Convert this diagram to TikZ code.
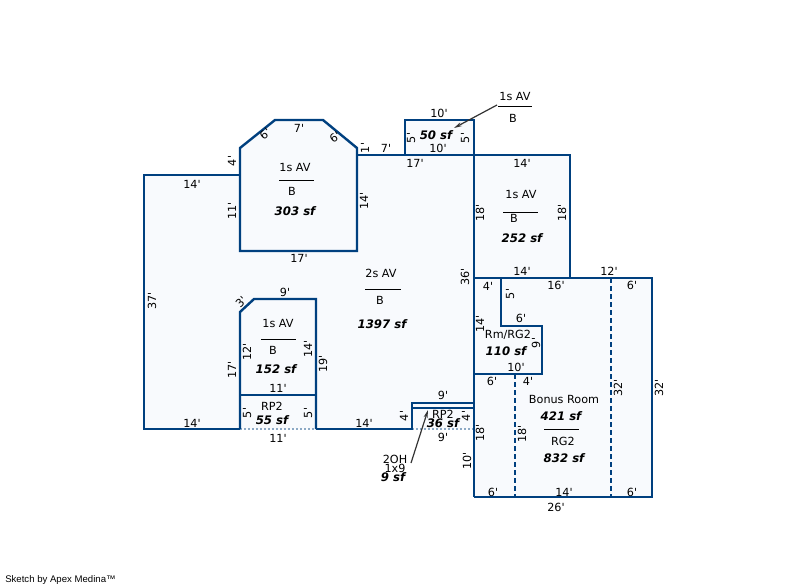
\documentclass[tikz,border=0pt]{standalone}
\usepackage{fontspec}
\newfontfamily\planfont{DejaVu Sans}
\newfontfamily\sketchfont{Liberation Sans}
\usetikzlibrary{arrows.meta}
\definecolor{wallblue}{HTML}{00407F}
\definecolor{floorfill}{HTML}{F8FAFD}
\definecolor{leadgray}{HTML}{333333}
\tikzset{
 wall/.style={draw=wallblue,line width=1.8pt,line join=miter},
 openwall/.style={draw=wallblue!45,line width=1.6pt,dash pattern=on 1.5pt off 1.5pt},
 innerwall/.style={draw=wallblue,line width=1.8pt,dash pattern=on 4pt off 2pt},
 sep/.style={draw=black,line width=0.75pt},
 leader/.style={draw=leadgray,line width=0.9pt,-{Stealth[length=6pt,width=3pt]}},
 lbl/.style={inner sep=0pt,font=\planfont\fontsize{8.4}{9}\selectfont},
 vlbl/.style={lbl,rotate=90},
 area/.style={inner sep=0pt,font=\planfont\fontsize{8.8}{9}\selectfont\bfseries\itshape}
}
\begin{document}
\begin{tikzpicture}[x=0.75pt,y=-0.75pt]
\useasboundingbox (0,0) rectangle (800,587);
% floor
\fill[floorfill] (144,175) -- (240,175) -- (240,148) -- (275,120) -- (323,120) -- (357,148) -- (357,155) -- (405,155) -- (405,120) -- (474,120) -- (474,155) -- (570,155) -- (570,278) -- (652,278) -- (652,497) -- (474,497) -- (474,429) -- (412,429) -- (316,429) -- (240,429) -- (144,429) -- cycle;
% outer walls
\draw[openwall] (240,429) -- (316,429);
\draw[openwall] (412,429) -- (474,429);
\draw[wall] (240,175) -- (144,175) -- (144,429) -- (240,429);
\draw[wall] (316,429) -- (412,429) -- (412,403) -- (474,403);
\draw[wall] (412,408) -- (474,408);
\draw[wall] (240,251) -- (240,148) -- (275,120) -- (323,120) -- (357,148) -- (357,251) -- cycle;
\draw[wall] (357,155) -- (474,155);
\draw[wall] (405,155) -- (405,120) -- (474,120) -- (474,497);
\draw[wall] (474,155) -- (570,155) -- (570,278);
\draw[wall] (474,278) -- (652,278) -- (652,497) -- (474,497);
\draw[wall] (501,278) -- (501,326) -- (542,326) -- (542,374) -- (474,374);
\draw[wall] (240,429) -- (240,312) -- (254,299) -- (316,299) -- (316,429);
\draw[wall] (240,395) -- (316,395);
\draw[innerwall] (515,374) -- (515,497);
\draw[innerwall] (611,278) -- (611,497);
% area separators
\draw[sep] (498,106) -- (532,106);
\draw[sep] (279,180) -- (314,180);
\draw[sep] (365,289) -- (401,289);
\draw[sep] (503,212) -- (538,212);
\draw[sep] (261,339) -- (296,339);
\draw[sep] (544,429) -- (579,429);
% top addition
\node[lbl] (topw) at (439,113) {10'};
\node[lbl] (topav) at (515,96) {1s AV};
\node[lbl] (topb) at (513,118) {B};
\node[area] (top50) at (436,135) {50 sf};
\node[vlbl] (tops1) at (411,138) {5'};
\node[vlbl] (tops2) at (465,138) {5'};
\node[lbl] (topbot) at (438,148) {10'};
\node[lbl] (main17) at (415,163) {17'};
\node[lbl] (main7) at (386,148) {7'};
\node[vlbl] (main1) at (365,148) {1'};
% first floor north
\node[vlbl] (nw4) at (232,161) {4'};
\node[lbl] (nw14) at (192,184) {14'};
\node[vlbl] (nw11) at (232,211) {11'};
\node[lbl,rotate=39] (nd6a) at (265,134) {6'};
\node[lbl] (nd7) at (299,128) {7'};
\node[lbl,rotate=35] (nd6b) at (335,137) {6'};
\node[lbl] (nav) at (295,167) {1s AV};
\node[lbl] (nb) at (292,191) {B};
\node[area] (n303) at (295,211) {303 sf};
\node[vlbl] (n14) at (364,201) {14'};
\node[lbl] (n17) at (299,258) {17'};
% two storey
\node[lbl] (mav) at (381,273) {2s AV};
\node[lbl] (mb) at (380,300) {B};
\node[area] (m1397) at (382,324) {1397 sf};
\node[vlbl] (m36) at (465,277) {36'};
\node[vlbl] (m37) at (152,301) {37'};
\node[lbl] (m14a) at (192,423) {14'};
\node[lbl] (m14b) at (364,423) {14'};
% east wing
\node[lbl] (e14a) at (522,163) {14'};
\node[vlbl] (e18a) at (480,213) {18'};
\node[vlbl] (e18b) at (562,213) {18'};
\node[lbl] (eav) at (521,194) {1s AV};
\node[lbl] (eb) at (514,218) {B};
\node[area] (e252) at (522,238) {252 sf};
\node[lbl] (e14b) at (522,271) {14'};
\node[lbl] (e12) at (609,271) {12'};
% garage room
\node[lbl] (g16) at (556,285) {16'};
\node[lbl] (g6a) at (632,285) {6'};
\node[lbl] (r4) at (488,286) {4'};
\node[vlbl] (r5) at (510,294) {5'};
\node[lbl] (r6) at (521,318) {6'};
\node[vlbl] (r14) at (480,324) {14'};
\node[lbl] (rname) at (508,335) {Rm/RG2};
\node[area] (r110) at (506,351) {110 sf};
\node[vlbl] (r9) at (536,343) {9'};
\node[lbl] (r10) at (516,367) {10'};
\node[lbl] (g6b) at (492,381) {6'};
\node[lbl] (g4) at (528,381) {4'};
\node[lbl] (gname) at (564,399) {Bonus Room};
\node[area] (g421) at (561,416) {421 sf};
\node[lbl] (grg) at (563,441) {RG2};
\node[area] (g832) at (564,458) {832 sf};
\node[vlbl] (g32a) at (618,388) {32'};
\node[vlbl] (g32b) at (659,388) {32'};
\node[vlbl] (g18a) at (522,434) {18'};
\node[vlbl] (g18b) at (480,433) {18'};
\node[lbl] (g14) at (564,492) {14'};
\node[lbl] (g6c) at (632,492) {6'};
\node[lbl] (g6d) at (493,492) {6'};
\node[lbl] (g26) at (556,507) {26'};
\node[vlbl] (g10) at (467,461) {10'};
% south porch
\node[lbl] (p9a) at (443,395) {9'};
\node[lbl] (pname) at (443,414) {RP2};
\node[area] (p36) at (443,423) {36 sf};
\node[vlbl] (p4a) at (404,416) {4'};
\node[vlbl] (p4b) at (466,416) {4'};
\node[lbl] (p9b) at (443,437) {9'};
\node[lbl] (oh) at (395,459) {2OH};
\node[lbl] (ohs) at (395,468) {1x9};
\node[area] (oh9) at (393,477) {9 sf};
% west rooms
\node[lbl] (w11a) at (278,438) {11'};
\node[lbl] (wrp) at (272,406) {RP2};
\node[area] (w55) at (272,420) {55 sf};
\node[vlbl] (w5a) at (247,413) {5'};
\node[vlbl] (w5b) at (308,413) {5'};
\node[lbl] (w11b) at (278,388) {11'};
\node[lbl] (wav) at (278,323) {1s AV};
\node[lbl] (wb) at (273,350) {B};
\node[area] (w152) at (276,369) {152 sf};
\node[vlbl] (w12) at (247,352) {12'};
\node[vlbl] (w14) at (308,349) {14'};
\node[vlbl] (w17) at (232,370) {17'};
\node[vlbl] (w19) at (323,364) {19'};
\node[lbl] (w9) at (285,292) {9'};
\node[lbl,rotate=45] (w3) at (241,302) {3'};
% leaders
\coordinate (leadA) at (497,105);
\coordinate (tipA) at (454,128);
\coordinate (leadB) at (411,463);
\coordinate (tipB) at (428,410);
\draw[leader] (leadA) -- (tipA);
\draw[leader] (leadB) -- (tipB);
\node[inner sep=0pt,anchor=west,font=\sketchfont\fontsize{7.2}{8}\selectfont] (credit) at (5,580) {Sketch by Apex Medina™};
\end{tikzpicture}
\end{document}
